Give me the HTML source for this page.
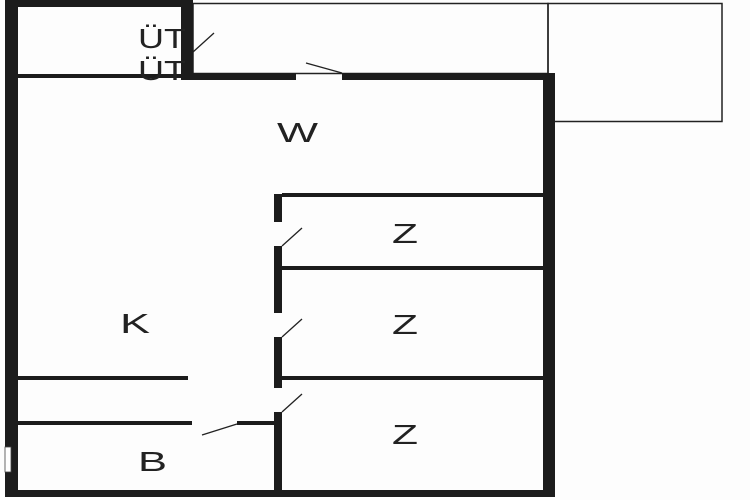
<!DOCTYPE html>
<html><head><style>body{margin:0;background:#fff}svg{display:block}text{font-family:"Liberation Sans",sans-serif;fill:#222}</style></head><body>
<svg width="750" height="500" viewBox="0 0 750 500">
<rect width="750" height="500" fill="#fdfdfd"/>
<rect x="193" y="3.5" width="355" height="70" fill="none" stroke="#222" stroke-width="1.5"/>
<rect x="548" y="3.5" width="174" height="118" fill="none" stroke="#222" stroke-width="1.5"/>
<g fill="#1c1c1c">
<rect x="5" y="0" width="188" height="7"/>
<rect x="5" y="0" width="13" height="497"/>
<rect x="181" y="0" width="12" height="80"/>
<rect x="181" y="73" width="115" height="7"/>
<rect x="342" y="73" width="213" height="7"/>
<rect x="543" y="73" width="12" height="424"/>
<rect x="5" y="490" width="550" height="7"/>
<rect x="18" y="74" width="163" height="4"/>
<rect x="274" y="194" width="8" height="28"/>
<rect x="274" y="246" width="8" height="67"/>
<rect x="274" y="337" width="8" height="51"/>
<rect x="274" y="412" width="8" height="85"/>
<rect x="282" y="193" width="261" height="4"/>
<rect x="282" y="266" width="261" height="4"/>
<rect x="282" y="376" width="261" height="4"/>
<rect x="15" y="376" width="173" height="4"/>
<rect x="15" y="421" width="177" height="4"/>
<rect x="237" y="421" width="38" height="4"/>
</g>
<rect x="5" y="447" width="6" height="25" fill="#fff" stroke="#444" stroke-width="0.8"/>
<g stroke="#222" stroke-width="1.3">
<line x1="193" y1="52" x2="214" y2="33"/>
<line x1="306" y1="63" x2="342" y2="73"/>
<line x1="282" y1="246" x2="302" y2="228"/>
<line x1="282" y1="337" x2="302" y2="319"/>
<line x1="282" y1="412" x2="302" y2="394"/>
<line x1="202" y1="435" x2="237" y2="424"/>
</g>
<g font-size="28">
<text x="138" y="48" textLength="48" lengthAdjust="spacingAndGlyphs">ÜT</text>
<text x="138" y="80" textLength="48" lengthAdjust="spacingAndGlyphs">ÜT</text>
<text x="277" y="142" textLength="41" lengthAdjust="spacingAndGlyphs">W</text>
<text x="392" y="243" textLength="26" lengthAdjust="spacingAndGlyphs">Z</text>
<text x="392" y="334" textLength="26" lengthAdjust="spacingAndGlyphs">Z</text>
<text x="392" y="444" textLength="26" lengthAdjust="spacingAndGlyphs">Z</text>
<text x="120" y="333" textLength="30" lengthAdjust="spacingAndGlyphs">K</text>
<text x="138" y="471" textLength="29" lengthAdjust="spacingAndGlyphs">B</text>
</g>
</svg>
</body></html>
